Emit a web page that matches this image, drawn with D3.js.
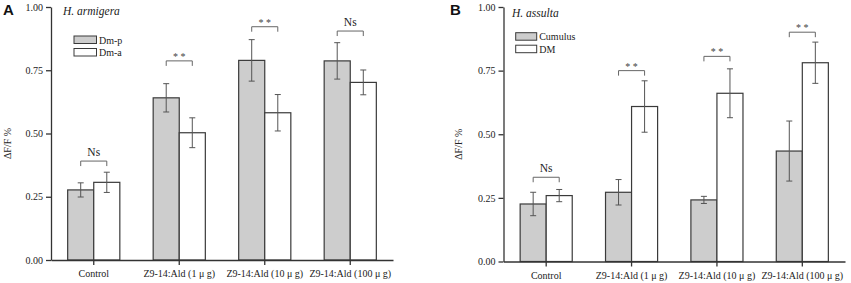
<!DOCTYPE html>
<html><head><meta charset="utf-8">
<script src="https://cdn.jsdelivr.net/npm/d3@7"></script>
<style>
body{margin:0;background:#fff;}
svg{display:block;}
</style></head>
<body>
<svg id="c" width="851" height="283"></svg>
<script>
// ---------- data ----------
const categories = ["Control", "Z9-14:Ald (1 \u03bc g)", "Z9-14:Ald (10 \u03bc g)", "Z9-14:Ald (100 \u03bc g)"];
const yTicks = [0, 0.25, 0.5, 0.75, 1.0];

const armigeraSeries = ["Dm-p", "Dm-a"];
const armigeraDmp = [0.277, 0.641, 0.789, 0.787];
const armigeraDmpErr = [0.028, 0.056, 0.082, 0.072];
const armigeraDma = [0.307, 0.503, 0.582, 0.702];
const armigeraDmaErr = [0.040, 0.059, 0.072, 0.049];
const armigeraSig = ["Ns", "* *", "* *", "Ns"];
const armigeraSigLevel = [0.391, 0.787, 0.922, 0.905];

const assultaSeries = ["Cumulus", "DM"];
const assultaCumulus = [0.226, 0.272, 0.242, 0.434];
const assultaCumulusErr = [0.046, 0.050, 0.014, 0.118];
const assultaDM = [0.259, 0.609, 0.661, 0.781];
const assultaDMErr = [0.024, 0.101, 0.096, 0.081];
const assultaSig = ["Ns", "* *", "* *", "* *"];
const assultaSigLevel = [0.331, 0.750, 0.806, 0.901];

// ---------- drawing ----------
const SERIF = '"Liberation Serif", "Times New Roman", serif';
const svg = d3.select("#c");
const fills = ["#cdcdcd", "#ffffff"];

function txt(sel) { return sel.style("font-family", SERIF).style("fill", "#222"); }

function drawPanel(o) {
  const g = svg.append("g");
  const x = d3.scaleBand().domain(categories).range([o.x0, o.x1])
    .paddingInner(0.39).paddingOuter(0.195);
  const xs = d3.scaleBand().domain([0, 1]).range([0, x.bandwidth()]);
  const y = d3.scaleLinear().domain([0, 1]).range([o.yb, o.yt]);

  const seriesVals = [o.v1, o.v2];
  const seriesErr = [o.e1, o.e2];
  // bars
  [0, 1].forEach(s => {
    g.selectAll(null).data(categories).enter().append("rect")
      .attr("x", c => x(c) + xs(s))
      .attr("y", (c, i) => y(seriesVals[s][i]))
      .attr("width", xs.bandwidth())
      .attr("height", (c, i) => y(0) - y(seriesVals[s][i]))
      .attr("fill", fills[s]).attr("stroke", "#3a3a3a").attr("stroke-width", 1.2);
  });
  // error bars
  [0, 1].forEach(s => {
    categories.forEach((c, i) => {
      const cx = x(c) + xs(s) + xs.bandwidth() / 2;
      const v = seriesVals[s][i], e = seriesErr[s][i];
      const eg = g.append("g").attr("stroke", "#555").attr("stroke-width", 1);
      eg.append("line").attr("x1", cx).attr("x2", cx).attr("y1", y(v + e)).attr("y2", y(v - e));
      eg.append("line").attr("x1", cx - 3).attr("x2", cx + 3).attr("y1", y(v + e)).attr("y2", y(v + e));
      eg.append("line").attr("x1", cx - 3).attr("x2", cx + 3).attr("y1", y(v - e)).attr("y2", y(v - e));
    });
  });
  // significance brackets
  categories.forEach((c, i) => {
    const xa = x(c) + xs(0) + xs.bandwidth() / 2;
    const xb = x(c) + xs(1) + xs.bandwidth() / 2;
    const yy = y(o.sigLevel[i]);
    g.append("path").attr("d", `M${xa},${yy + 5}V${yy}H${xb}V${yy + 5}`)
      .attr("fill", "none").attr("stroke", "#666").attr("stroke-width", 1);
    const isNs = o.sig[i] === "Ns";
    txt(g.append("text")).attr("x", (xa + xb) / 2).attr("y", isNs ? yy - 5 : yy - 1)
      .attr("text-anchor", "middle").style("font-size", (isNs ? 11.5 : 10) + "px")
      .style("fill", isNs ? "#222" : "#444").text(o.sig[i]);
  });

  // axes
  const ya = g.append("g").attr("transform", `translate(${o.x0},0)`)
    .call(d3.axisLeft(y).tickValues(yTicks).tickFormat(d3.format(".2f")).tickSize(5).tickSizeOuter(0).tickPadding(3));
  const xa = g.append("g").attr("transform", `translate(0,${o.yb})`)
    .call(d3.axisBottom(x).tickSize(5).tickSizeOuter(0).tickPadding(5));
  [ya, xa].forEach(a => {
    a.selectAll("path,line").attr("stroke", "#333").attr("stroke-width", 1.3);
    txt(a.selectAll("text")).style("font-size", "10px");
  });

  // y title
  txt(g.append("text")).attr("transform", `translate(${o.titleX},${(o.yt + o.yb) / 2 + 10}) rotate(-90)`)
    .attr("text-anchor", "middle").style("font-size", "10px").text("\u0394F/F %");

  // panel letter
  g.append("text").attr("x", o.letterX).attr("y", 15)
    .style("font-family", '"Liberation Sans", Arial, sans-serif').style("font-weight", "bold")
    .style("font-size", "15px").style("fill", "#111").text(o.letter);

  // species name
  txt(g.append("text")).attr("x", o.speciesX).attr("y", o.speciesY)
    .style("font-size", "11.5px").style("font-style", "italic").text(o.species);

  // legend
  o.series.forEach((s, k) => {
    g.append("rect").attr("x", o.legX).attr("y", o.legY + k * 12.5)
      .attr("width", o.legW).attr("height", 7.5)
      .attr("fill", fills[k]).attr("stroke", "#3a3a3a").attr("stroke-width", 1);
    txt(g.append("text")).attr("x", o.legX + o.legW + 2.5).attr("y", o.legY + k * 12.5 + 7.5)
      .style("font-size", "10px").text(s);
  });
}

drawPanel({
  x0: 51, x1: 393, yt: 7, yb: 260,
  v1: armigeraDmp, e1: armigeraDmpErr, v2: armigeraDma, e2: armigeraDmaErr,
  sig: armigeraSig, sigLevel: armigeraSigLevel, series: armigeraSeries,
  titleX: 11, letter: "A", letterX: 3, species: "H. armigera", speciesX: 63, speciesY: 15,
  legX: 74, legY: 36, legW: 22.5
});
drawPanel({
  x0: 503.5, x1: 845, yt: 7, yb: 261.5,
  v1: assultaCumulus, e1: assultaCumulusErr, v2: assultaDM, e2: assultaDMErr,
  sig: assultaSig, sigLevel: assultaSigLevel, series: assultaSeries,
  titleX: 462, letter: "B", letterX: 450, species: "H. assulta", speciesX: 512, speciesY: 17,
  legX: 515.7, legY: 32.7, legW: 21
});
</script>
</body></html>
